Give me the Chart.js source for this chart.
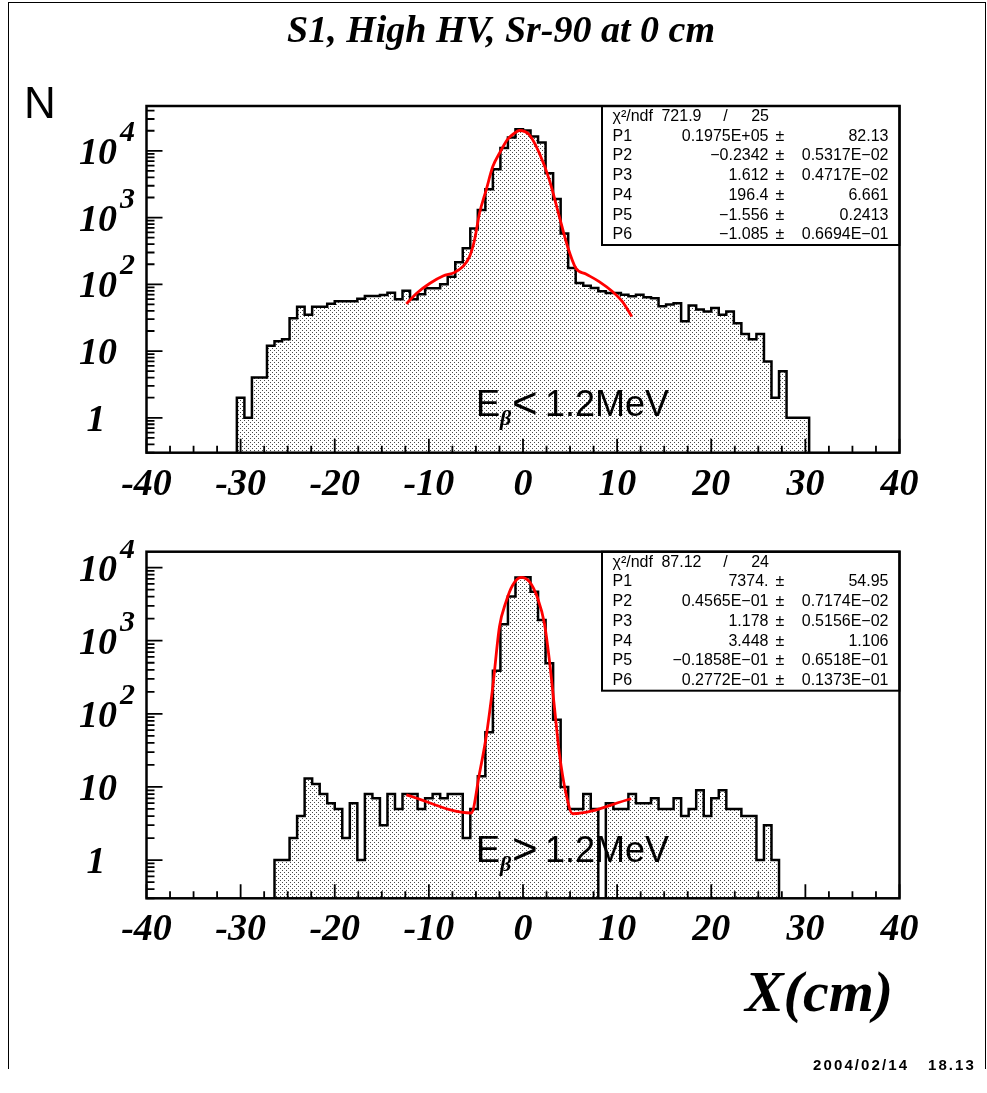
<!DOCTYPE html>
<html>
<head>
<meta charset="utf-8">
<script src="https://cdn.jsdelivr.net/npm/chart.js@4.4.1/dist/chart.umd.min.js"></script>
<style>
    html, body { margin: 0; padding: 0; background: #fff; }
    body { width: 987px; height: 1093px; position: relative; overflow: hidden; }
    canvas { position: absolute; left: 0; }
    #chart-top    { top: 0; }
    #chart-bottom { top: 540px; }
    .page-frame {
        position: absolute; left: 8px; top: 2px; width: 976px; height: 1066px;
        border-left: 1px solid #000; border-top: 1px solid #000; border-right: 1px solid #000;
    }
    .serif { font-family: "Liberation Serif", "Times New Roman", serif; font-style: italic; font-weight: bold; }
    .sans  { font-family: "Liberation Sans", Arial, sans-serif; }
    #title  { position: absolute; top: 10px; left: 0; width: 1002px; text-align: center; font-size: 38px; line-height: 38px; }
    #ylabel { position: absolute; top: 81px; left: 24px; font-size: 44px; line-height: 44px; }
    #xlabel { position: absolute; top: 963px; left: 719px; width: 200px; text-align: center; font-size: 58px; line-height: 58px; }
    #stamp  { position: absolute; top: 1057px; right: 11px; font-size: 15px; line-height: 15px; font-weight: bold; letter-spacing: 2.1px; white-space: pre; }
</style>
</head>
<body>
<div class="page-frame"></div>
<canvas id="chart-top" width="987" height="540"></canvas>
<canvas id="chart-bottom" width="987" height="553"></canvas>
<div id="title" class="serif">S1, High HV, Sr-90 at 0 cm</div>
<div id="ylabel" class="sans">N</div>
<div id="xlabel" class="serif">X(cm)</div>
<div id="stamp" class="sans">2004/02/14   18.13</div>

<script>
// ---- data ----
const BIN_WIDTH  = 0.8;
const ZERO_FLOOR = 0.01;   // empty bins drop below the log axis

const topFirstEdge = -30.4;
const topCounts = [
    2, 1, 4, 4, 12, 14, 15, 31, 46, 35, 46, 46, 51, 56, 56, 56, 61, 67, 67, 69,
    75, 60, 80, 60, 71, 87, 87, 100, 130, 214, 347, 684, 1300, 2660, 5300, 11000,
    15800, 21100, 20200, 16400, 13300, 4600, 1900, 580, 176, 105, 95, 88, 79, 74,
    74, 70, 66, 70, 64, 62, 47, 50, 52, 28, 48, 42, 39, 44, 35, 39, 26, 18, 15, 18,
    7, 2, 5, 1, 1, 1
];
const topFitX = [-12.39, -11.33, -9.92, -8.5, -7.27, -6.4, -5.68, -5.15, -4.62, -3.91, -3.21, -2.5, -1.62,
                 -0.91, -0.38, 0.68, 1.74, 2.8, 3.86, 4.74, 5.62, 6.68, 8.09, 9.5, 10.56, 11.55];
const topFitY = [51, 73, 103, 133, 151, 184, 260, 462, 1160, 2600, 5820, 9220, 14960,
                 18400, 20200, 17400, 9220, 3670, 1035, 367, 174, 143, 110, 78, 55, 33];

const bottomFirstEdge = -26.4;
const bottomCounts = [
    1, 1, 2, 4, 13, 11, 8, 6, 5, 2, 6, 1, 8, 7, 3, 8, 5, 8, 8, 5, 7, 8, 7, 8, 8,
    2, 5, 14, 56, 387, 1680, 4010, 7300, 7400, 4680, 1920, 491, 83, 10, 5, 5, 8, 5,
    0, 6, 5, 5, 8, 6, 6, 7, 5, 5, 7, 4, 5, 9, 4, 7, 9, 5, 5, 4, 4, 1, 3, 1
];
const bottomFitX = [-12.39, -5.5, -4.62, -3.91, -3.21, -2.5, -1.8, -1.1, -0.2, 0.68, 1.56, 2.27,
                    2.8, 3.33, 3.86, 4.56, 5.27, 11.5];
const bottomFitY = [7.8, 4.4, 15.4, 49, 234, 1550, 3420, 5750, 7350, 6410, 3800, 1730,
                    546, 126, 29, 8.2, 4.3, 6.9];

const xTickValues = [-40, -30, -20, -10, 0, 10, 20, 30, 40];
const xTickLabels = ['-40', '-30', '-20', '-10', '0', '10', '20', '30', '40'];
const yTickValues = [1, 10, 100, 1000, 10000];
const yTickBases  = ['1', '10', '10', '10', '10'];
const yTickExps   = ['', '', '2', '3', '4'];

const statNames = ['P1', 'P2', 'P3', 'P4', 'P5', 'P6'];
const topStats = {
    chi2: '721.9', ndf: '25',
    values: ['0.1975E+05', '\u22120.2342', '1.612', '196.4', '\u22121.556', '\u22121.085'],
    errors: ['82.13', '0.5317E\u221202', '0.4717E\u221202', '6.661', '0.2413', '0.6694E\u221201']
};
const bottomStats = {
    chi2: '87.12', ndf: '24',
    values: ['7374.', '0.4565E\u221201', '1.178', '3.448', '\u22120.1858E\u221201', '0.2772E\u221201'],
    errors: ['54.95', '0.7174E\u221202', '0.5156E\u221202', '1.106', '0.6518E\u221201', '0.1373E\u221201']
};

// ---- helpers ----
const SERIF_BI = '"Liberation Serif", "Times New Roman", serif';
const SANS     = '"Liberation Sans", Arial, sans-serif';

function histPoints(firstEdge, counts) {
    const pts = [{ x: firstEdge, y: ZERO_FLOOR }];
    counts.forEach((n, i) => pts.push({ x: firstEdge + i * BIN_WIDTH, y: n > 0 ? n : ZERO_FLOOR }));
    pts.push({ x: firstEdge + counts.length * BIN_WIDTH, y: ZERO_FLOOR });
    return pts;
}

function fitPoints(xs, ys) {
    return xs.map((x, i) => ({ x, y: ys[i] }));
}

function dotPattern(ctx) {
    const tile = document.createElement('canvas');
    tile.width = 4; tile.height = 4;
    const g = tile.getContext('2d');
    g.fillStyle = '#ffffff';
    g.fillRect(0, 0, 4, 4);
    g.fillStyle = '#4a4a4a';
    g.fillRect(0, 0, 1, 1);
    g.fillRect(2, 2, 1, 1);
    return ctx.createPattern(tile, 'repeat');
}

// frame, inner ticks, labels, stats box, energy label (ROOT style)
const rootFrame = {
    id: 'rootFrame',
    afterDatasetsDraw(chart, args, o) {
        const { ctx, chartArea: a } = chart;
        const xs = chart.scales.x, ys = chart.scales.y;
        ctx.save();
        ctx.strokeStyle = '#000';
        ctx.fillStyle   = '#000';

        // ticks
        ctx.lineWidth = 1.8;
        ctx.beginPath();
        for (let v = xs.min; v <= xs.max + 1e-6; v += 2.5) {
            const px  = xs.getPixelForValue(v);
            const len = Math.abs(v % 10) < 1e-6 ? 14 : 7;
            ctx.moveTo(px, a.bottom);
            ctx.lineTo(px, a.bottom - len);
        }
        for (let dec = -1; dec <= 5; dec++) {
            for (let m = 1; m <= 9; m++) {
                const v = m * Math.pow(10, dec);
                if (v < ys.min || v > ys.max) continue;
                const py = ys.getPixelForValue(v);
                ctx.moveTo(a.left, py);
                ctx.lineTo(a.left + (m === 1 ? 16 : 8), py);
            }
        }
        ctx.stroke();

        // stats box
        const bx = a.left + 455.5, bh = 139;
        ctx.fillStyle = '#fff';
        ctx.fillRect(bx, a.top, a.right - bx, bh);
        ctx.lineWidth = 2;
        ctx.strokeRect(bx, a.top, a.right - bx, bh);

        // frame
        ctx.lineWidth = 2.5;
        ctx.strokeRect(a.left, a.top, a.right - a.left, a.bottom - a.top);

        // x labels
        ctx.fillStyle = '#000';
        ctx.font = `italic bold 38px ${SERIF_BI}`;
        ctx.textAlign = 'center';
        ctx.textBaseline = 'alphabetic';
        xTickValues.forEach((v, i) => {
            ctx.fillText(xTickLabels[i], xs.getPixelForValue(v), a.bottom + 42);
        });

        // y labels
        yTickValues.forEach((v, i) => {
            const py = ys.getPixelForValue(v);
            const base = yTickBases[i];
            ctx.font = `italic bold 38px ${SERIF_BI}`;
            ctx.textAlign = 'right';
            ctx.fillText(base, a.left - (base.length === 1 ? 41 : 29.5), py + 13);
            if (yTickExps[i]) {
                ctx.font = `italic bold 30px ${SERIF_BI}`;
                ctx.textAlign = 'left';
                ctx.fillText(yTickExps[i], a.left - 26.5, py - 10);
            }
        });

        // stats text
        const s = o.stats;
        ctx.font = `16px ${SANS}`;
        ctx.textBaseline = 'middle';
        const rowY = i => a.top + 10.5 + 19.75 * i;
        const cLab = a.left + 466, cVal = a.left + 622, cPm = a.left + 633.5, cErr = a.left + 742;
        ctx.textAlign = 'left';
        ctx.fillText('\u03C7\u00B2/ndf', cLab, rowY(0));
        ctx.textAlign = 'right';
        ctx.fillText(s.chi2, a.left + 555, rowY(0));
        ctx.textAlign = 'center';
        ctx.fillText('/', a.left + 579, rowY(0));
        ctx.textAlign = 'right';
        ctx.fillText(s.ndf, a.left + 622.5, rowY(0));
        statNames.forEach((name, i) => {
            const y = rowY(i + 1);
            ctx.textAlign = 'left';   ctx.fillText(name, cLab, y);
            ctx.textAlign = 'right';  ctx.fillText(s.values[i], cVal, y);
            ctx.textAlign = 'center'; ctx.fillText('\u00B1', cPm, y);
            ctx.textAlign = 'right';  ctx.fillText(s.errors[i], cErr, y);
        });

        // E_beta label
        const ex = a.left + 329.5, ey = a.top + 310;
        ctx.textBaseline = 'alphabetic';
        ctx.textAlign = 'left';
        ctx.font = `36px ${SANS}`;
        ctx.fillText('E', ex, ey);
        ctx.font = `italic bold 22px ${SERIF_BI}`;
        ctx.fillText('\u03B2', ex + 24, ey + 9);
        ctx.font = `44px ${SANS}`;
        ctx.fillText(o.sign, ex + 36, ey + 2);
        ctx.font = `36px ${SANS}`;
        ctx.fillText('1.2MeV', ex + 69, ey);

        ctx.restore();
    }
};

function makeChart(id, padding, yMax, firstEdge, counts, fitX, fitY, stats, sign) {
    const ctx = document.getElementById(id).getContext('2d');
    return new Chart(ctx, {
        type: 'line',
        data: {
            datasets: [
                {
                    label:            'fit',
                    data:             fitPoints(fitX, fitY),
                    borderColor:      '#ff0000',
                    borderWidth:      2.8,
                    pointRadius:      0,
                    fill:             false,
                    cubicInterpolationMode: 'monotone',
                    order:            0
                },
                {
                    label:            'hist',
                    data:             histPoints(firstEdge, counts),
                    borderColor:      '#000000',
                    borderWidth:      2.5,
                    backgroundColor:  dotPattern(ctx),
                    pointRadius:      0,
                    stepped:          'before',
                    fill:             'start',
                    order:            1
                }
            ]
        },
        options: {
            responsive:  false,
            animation:   false,
            devicePixelRatio: 1,
            events:      [],
            layout:      { padding },
            plugins: {
                legend:  { display: false },
                tooltip: { enabled: false },
                rootFrame: { stats, sign }
            },
            scales: {
                x: { type: 'linear', min: -40, max: 40, display: false },
                y: { type: 'logarithmic', min: 0.3, max: yMax, display: false }
            }
        },
        plugins: [rootFrame]
    });
}

makeChart('chart-top',    { left: 146.5, right: 87.5, top: 106,  bottom: 87.3 },  47000,
          topFirstEdge, topCounts, topFitX, topFitY, topStats, '<');
makeChart('chart-bottom', { left: 146.5, right: 87.5, top: 11.7, bottom: 194.7 }, 16500,
          bottomFirstEdge, bottomCounts, bottomFitX, bottomFitY, bottomStats, '>');
</script>
</body>
</html>
